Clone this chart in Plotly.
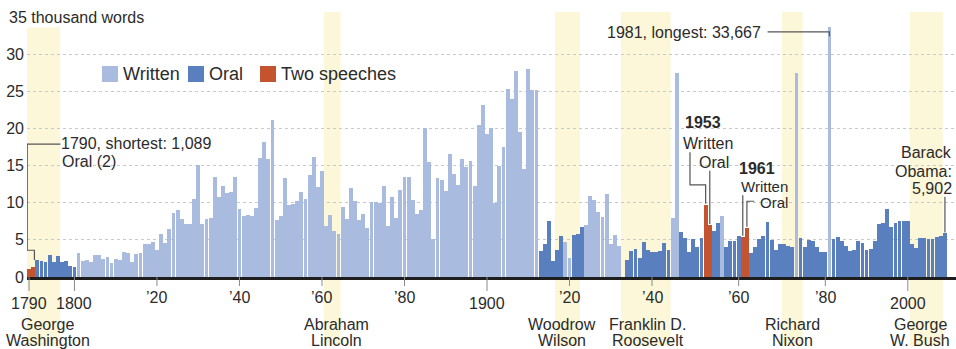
import plotly.graph_objects as go

# ---------------- data (thousands of words per address) ----------------
w_1790 = [None, 2.30, 2.10, 1.97, 2.92, 1.99, 2.87, 2.06, 2.22, 1.51]
w_1800 = [1.37, 3.22, 2.20, 2.26, 2.08, 2.98, 2.92, 2.43, 2.72, 1.84]
w_1810 = [2.45, 2.23, 3.33, 3.26, 2.04, 3.12, 3.28, 4.43, 4.48, 4.77]
w_1820 = [3.57, 5.80, 4.52, 6.41, 8.57, 9.01, 7.77, 7.13, 7.19, 10.54]
w_1830 = [15.07, 7.17, 7.82, 7.88, 13.44, 10.72, 12.21, 11.35, 11.44, 13.43]
w_1840 = [9.16, 8.22, 8.39, 8.16, 9.26, 16.04, 18.11, 15.86, 21.15, 7.62]
w_1850 = [8.22, 13.27, 9.71, 9.86, 10.17, 11.44, 10.56, 13.76, 16.17, 12.15]
w_1860 = [14.22, 6.91, 8.40, 6.20, 5.82, 9.38, 7.85, 11.99, 10.20, 7.62]
w_1870 = [8.47, 6.59, 10.1, 10.1, 9.9, 12.3, 6.8, 10.8, 8.0, 11.7]
w_1880 = [13.5, 13.5, 10.4, 8.5, 9.0, 20.1, 15.5, 5.1, 13.3, 13.1]
w_1890 = [11.6, 16.5, 13.8, 12.4, 15.9, 14.8, 15.6, 12.2, 20.4, 23.1]
w_1900 = [19.2, 20.0, 9.9, 15.0, 17.5, 25.3, 24.0, 27.7, 19.5, 14.5]
w_1910 = [28.0, 25.2, 25.2, 3.5, 4.5, 7.6, 2.1, 3.6, 5.5, 4.7]
w_1920 = [2.6, 5.6, 5.8, 6.7, 7.0, 10.9, 10.4, 8.8, 8.1, 11.2]
w_1930 = [4.5, 5.7, 4.2, None, 2.3, 3.5, 3.8, 2.6, 4.7, 3.6]
w_1940 = [3.3, 3.3, 3.5, 4.6, 3.7, 8.0, 27.5, 6.1, 5.2, 3.3]
w_1950 = [5.1, 4.0, 5.3, None, 6.2, 7.3, 8.2, 4.1, 4.9, 4.9]
w_1960 = [5.5, None, 3.2, 4.0, 5.1, 5.5, 7.4, 5.0, 3.6, 4.5]
w_1970 = [4.5, 4.2, 4.1, 27.4, 5.2, 4.1, 5.0, 4.9, 4.1, 3.4]
w_1980 = [3.4, 33.667, 5.1, 5.4, 4.8, 4.2, 3.5, 3.7, 4.8, 4.6]
w_1990 = [3.7, 3.8, 4.9, 7.1, 7.3, 9.1, 6.7, 7.3, 7.5, 7.5]
w_2000 = [7.5, 4.4, 3.9, 5.3, 5.3, 5.1, 5.1, 5.4, 5.5, 5.902]

two_speeches = {1790: [1.089, 1.401], 1953: [9.7, 7.0], 1961: [5.4, 6.6]}
no_address = [1933]
written_spans = [(1801, 1912), (1919, 1920), (1924, 1932), (1945, 1946),
                 (1956, 1956), (1973, 1973), (1981, 1981)]

tick_years = [1790, 1800, 1820, 1840, 1860, 1880, 1900, 1920, 1940, 1960, 1980, 2000]
tick_labels = ["1790", "1800", "\u201920", "\u201940", "\u201960", "\u201980",
               "1900", "\u201920", "\u201940", "\u201960", "\u201980", "2000"]

# highlighted periods and the presidents named under them
band_spans = [(1790, 1796), (1861, 1864), (1917, 1922), (1933, 1944), (1970, 1974), (2001, 2008)]
president_names = [("George", "Washington"), ("Abraham", "Lincoln"), ("Woodrow", "Wilson"),
                   ("Franklin D.", "Roosevelt"), ("Richard", "Nixon"), ("George", "W. Bush")]
name_shift = [4, 4, -5, 2, 0, -6]

legend_names = ["Written", "Oral", "Two speeches"]

# ---------------- styles ----------------
C_WRITTEN = "#a9bce0"
C_ORAL = "#5a7fbf"
C_TWO = "#c4542f"
C_BAND = "#fbf7d8"
C_TEXT = "#2b2b2b"
C_GRID = "#c9c9c9"
C_LEAD = "#555555"
FONT = "Liberation Sans, Arial, sans-serif"

W, H = 956, 349
ML, MR, MT, MB = 27, 0, 17, 72
PW, PH = W - ML - MR, H - MT - MB


def px2x(px):
    return (px - ML) / PW


def py2y(py):
    return (H - MB - py) / PH


# ---------------- build slots ----------------
decades = [w_1790, w_1800, w_1810, w_1820, w_1830, w_1840, w_1850, w_1860,
           w_1870, w_1880, w_1890, w_1900, w_1910, w_1920, w_1930, w_1940,
           w_1950, w_1960, w_1970, w_1980, w_1990, w_2000]
slots = []
for i, dec in enumerate(decades):
    for j, w in enumerate(dec):
        yr = 1790 + 10 * i + j
        if yr in two_speeches:
            for v in two_speeches[yr]:
                slots.append((yr, v, "two"))
        elif yr in no_address:
            slots.append((yr, None, None))
        else:
            kind = "written" if any(a <= yr <= b for a, b in written_spans) else "oral"
            slots.append((yr, w, kind))


def first_slot(yr):
    return next(k for k, s in enumerate(slots) if s[0] == yr)


def last_slot(yr):
    return max(k for k, s in enumerate(slots) if s[0] == yr)


fig = go.Figure()
for kind, color, name in [("written", C_WRITTEN, "Written"), ("oral", C_ORAL, "Oral"),
                          ("two", C_TWO, "Two speeches")]:
    xs = [k for k, s in enumerate(slots) if s[2] == kind]
    ys = [s[1] for s in slots if s[2] == kind]
    fig.add_bar(x=xs, y=ys, name=name, marker=dict(color=color, line=dict(width=0)),
                width=0.93, showlegend=False, hoverinfo="skip")

n = len(slots)
x_range = [-0.5, -0.5 + PW / ((947 - ML) / n)]

shapes = []
annotations = []

# bands + president labels
for (a, b), (l1, l2), sh in zip(band_spans, president_names, name_shift):
    x0, x1 = first_slot(a) - 0.5, last_slot(b) + 0.5
    shapes.append(dict(type="rect", xref="x", yref="paper", x0=x0, x1=x1,
                       y0=py2y(346), y1=py2y(12), fillcolor=C_BAND, line_width=0,
                       layer="below"))
    cx = (x0 + x1) / 2
    for txt, py in [(l1, 324), (l2, 340)]:
        annotations.append(dict(text=txt, xref="x", yref="paper", x=cx, y=py2y(py),
                                xanchor="center", yanchor="middle", showarrow=False,
                                xshift=sh, font=dict(size=16, color=C_TEXT)))

# x ticks + labels
for yr, lab in zip(tick_years, tick_labels):
    s = first_slot(yr)
    big = not lab.startswith("\u2019")
    tl = 14 if big else 9
    shapes.append(dict(type="line", xref="x", yref="paper", x0=s, x1=s,
                       y0=0, y1=py2y(H - MB + tl), line=dict(color="#8a8a8a", width=1)))
    annotations.append(dict(text=lab, xref="x", yref="paper", x=s, y=py2y(303 if big else 297),
                            xanchor="center", yanchor="middle", showarrow=False,
                            font=dict(size=16, color=C_TEXT)))

# y-axis unit label
annotations.append(dict(text="35 thousand words", xref="paper", yref="paper",
                        x=px2x(7), y=py2y(17), xanchor="left", yanchor="middle",
                        showarrow=False, bgcolor="white", borderpad=1,
                        font=dict(size=16, color=C_TEXT)))

# legend
leg_x = [102, 188, 260]
for name, lx, col in zip(legend_names, leg_x, [C_WRITTEN, C_ORAL, C_TWO]):
    shapes.append(dict(type="rect", xref="paper", yref="paper", x0=px2x(lx), x1=px2x(lx + 16),
                       y0=py2y(82), y1=py2y(66), fillcolor=col, line_width=0))
    annotations.append(dict(text=name, xref="paper", yref="paper", x=px2x(lx + 19),
                            y=py2y(74), xanchor="left", yanchor="middle", showarrow=False,
                            font=dict(size=18, color=C_TEXT)))


def text(t, px, py, anchor="left", bold=False, size=16):
    annotations.append(dict(text=f"<b>{t}</b>" if bold else t, xref="paper", yref="paper",
                            x=px2x(px), y=py2y(py), xanchor=anchor, yanchor="middle",
                            showarrow=False, borderpad=0, font=dict(size=size, color=C_TEXT)))


def lead(path):
    shapes.append(dict(type="path", xref="x", yref="y", path=path,
                       line=dict(color=C_LEAD, width=1.2)))


# 1790 callout
s90 = first_slot(1790)
text("1790, shortest: 1,089", 60, 143)
text("Oral (2)", 61, 161)
lead(f"M {s90 + 7.6},17.9 H {s90 - 0.45} V 3.6 H {s90 + 1.3} V {max(two_speeches[1790]) + 0.9}")

# 1981 callout
s81 = first_slot(1981)
text("1981, longest: 33,667", 762, 32, anchor="right")
lead(f"M {s81 - 15.0},33.0 H {s81} V 32.4")

# 1953 callout
s53 = first_slot(1953)
text("1953", 684, 122, bold=True)
text("Written", 682, 143)
text("Oral", 698, 162)
lead(f"M {s53 - 3.8},16.8 V 12.4 H {s53} V {two_speeches[1953][0] + 0.15}")
lead(f"M {s53 + 1},14.3 V {two_speeches[1953][1] + 0.15}")

# 1961 callout
s61 = first_slot(1961)
text("1961", 738, 169, bold=True, size=16)
text("Written", 740, 186, size=15)
text("Oral", 759, 202, size=15)
lead(f"M {s61},11.0 V {two_speeches[1961][0] + 0.15}")
lead(f"M {s61 + 2.8},10.2 H {s61 + 1} V {two_speeches[1961][1] + 0.15}")

# Obama callout
s09 = first_slot(2009)
text("Barack", 953, 153, anchor="right")
text("Obama:", 953, 171, anchor="right")
text("5,902", 953, 188, anchor="right")
lead(f"M {s09},10.8 V {w_2000[-1] + 0.1}")

fig.update_layout(
    width=W, height=H, margin=dict(l=ML, r=MR, t=MT, b=MB),
    paper_bgcolor="white", plot_bgcolor="white",
    barmode="overlay", bargap=0,
    font=dict(family=FONT, size=16, color=C_TEXT),
    shapes=shapes, annotations=annotations, showlegend=False,
)
fig.update_xaxes(range=x_range, showgrid=False, zeroline=False, showticklabels=False,
                 ticks="", showline=True, linecolor="#1e1e1e", linewidth=3)
fig.update_yaxes(range=[0, 35], tickvals=[0, 5, 10, 15, 20, 25, 30, 35],
                 ticktext=["0", "5", "10", "15", "20", "25", "30", ""],
                 showgrid=True, gridcolor=C_GRID, griddash="dot", gridwidth=1,
                 zeroline=False, ticks="", ticklabelstandoff=2,
                 tickfont=dict(size=16, color=C_TEXT))

fig.write_html("out.html", config={"displayModeBar": False},
               post_script="document.body.style.margin='0';")
